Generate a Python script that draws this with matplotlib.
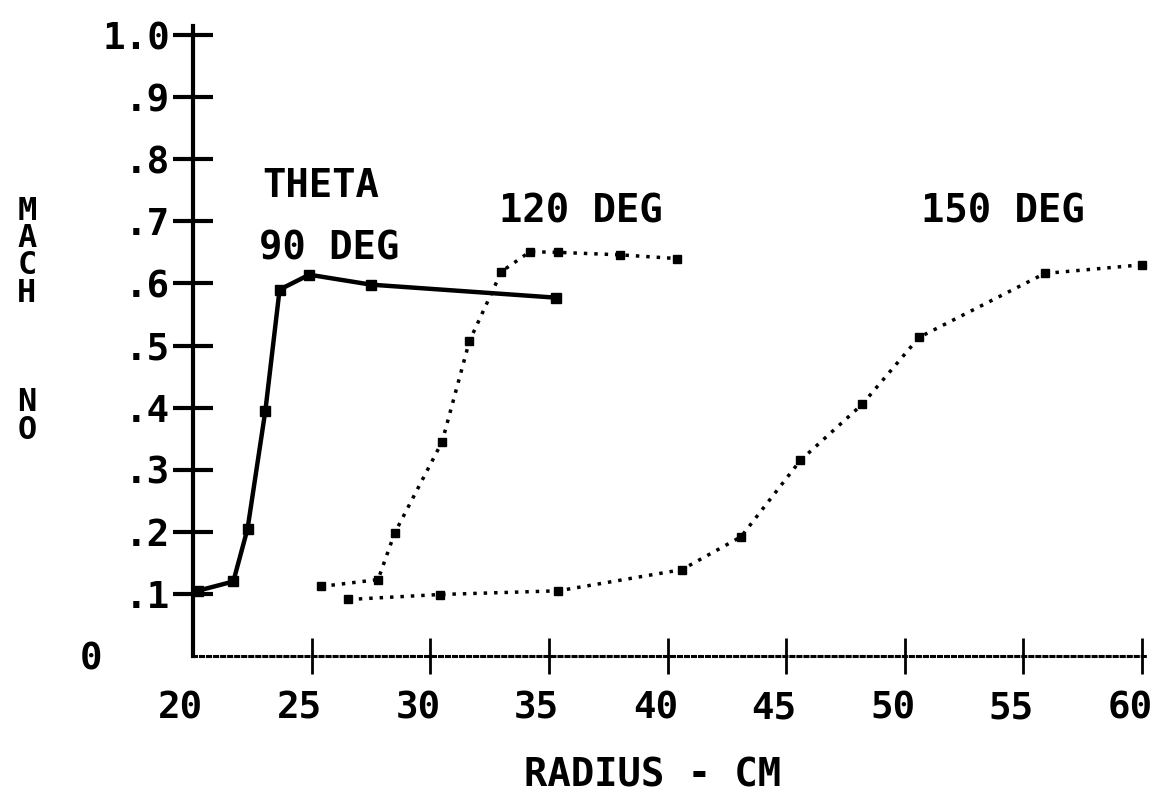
import matplotlib.pyplot as plt
import matplotlib.transforms as mtransforms

# data (radius in cm, mach number)
radius_90 = [20.2, 21.7, 22.3, 23.05, 23.65, 24.9, 27.5, 35.3]
mach_90 = [0.105, 0.12, 0.205, 0.395, 0.59, 0.614, 0.598, 0.577]

radius_120 = [25.4, 27.8, 28.5, 30.5, 31.65, 33.0, 34.2, 35.4, 38.0, 40.4]
mach_120 = [0.112, 0.123, 0.198, 0.345, 0.507, 0.619, 0.651, 0.650, 0.646, 0.640]

radius_150 = [26.55, 30.4, 35.4, 40.6, 43.1, 45.6, 48.2, 50.6, 55.9, 60.0]
mach_150 = [0.091, 0.099, 0.105, 0.139, 0.192, 0.315, 0.405, 0.513, 0.616, 0.630]

x_ticks = [20, 25, 30, 35, 40, 45, 50, 55, 60]
y_ticks = [0, .1, .2, .3, .4, .5, .6, .7, .8, .9, 1.0]
y_labels = ['0   ', '.1', '.2', '.3', '.4', '.5', '.6', '.7', '.8', '.9', '1.0']

plt.rcParams['font.family'] = ['DejaVu Sans Mono', 'DejaVu Sans']
plt.rcParams['font.weight'] = 'bold'

W, H = 1158, 797
fig = plt.figure(figsize=(W / 100, H / 100), dpi=100)
ax = fig.add_axes([193 / W, (H - 656) / H, (1142 - 193) / W, (656 - 35) / H])
ax.set_xlim(20, 60)
ax.set_ylim(0, 1)

dots = (0, (1, 2))
ax.plot(radius_90, mach_90, color='black', lw=3.2, marker='s', ms=7, clip_on=False)
ax.plot(radius_120, mach_120, color='black', lw=2.5, ls=dots, marker='s', ms=6, clip_on=False)
ax.plot(radius_150, mach_150, color='black', lw=2.5, ls=dots, marker='s', ms=6, clip_on=False)

# axes look of the old plotter
for s in ['top', 'right']:
    ax.spines[s].set_visible(False)
ax.spines['left'].set_linewidth(3)
ax.spines['left'].set_bounds(0, 1.015)
ax.spines['bottom'].set_linewidth(2.2)
ax.spines['bottom'].set_linestyle((0, (1, 1.3)))
ax.spines['bottom'].set_bounds(20, 60.25)

ax.set_xticks(x_ticks)
ax.set_xticklabels([str(t) for t in x_ticks])
ax.set_yticks(y_ticks)
ax.set_yticklabels(y_labels)
ax.tick_params(axis='x', direction='inout', length=26, width=2, pad=12, labelsize=27)
ax.tick_params(axis='y', direction='inout', length=29, width=3, pad=2, labelsize=27)
ax.xaxis.get_major_ticks()[0].tick1line.set_visible(False)
ax.yaxis.get_major_ticks()[0].tick1line.set_visible(False)

# x tick labels sit a little left of their ticks
shift = mtransforms.ScaledTranslation(-0.12, 0, fig.dpi_scale_trans)
for lab in ax.get_xticklabels():
    lab.set_transform(lab.get_transform() + shift)

ax.set_xlabel('RADIUS - CM', fontsize=28, fontweight='bold', va='center')
ax.xaxis.set_label_coords(0.484, -0.192)
ax.set_ylabel('M\nA\nC\nH\n\n\n\nN\nO', fontsize=23, fontweight='bold', rotation=0,
              linespacing=0.85, va='center', ha='center')
ax.yaxis.set_label_coords(-0.175, 0.54)

ax.text(22.9, 0.757, 'THETA', fontsize=28, va='center')
ax.text(22.8, 0.657, '90 DEG', fontsize=28, va='center')
ax.text(32.9, 0.715, '120 DEG', fontsize=28, va='center')
ax.text(50.7, 0.715, '150 DEG', fontsize=28, va='center')

fig.savefig('out.png', dpi=100, facecolor='white')
